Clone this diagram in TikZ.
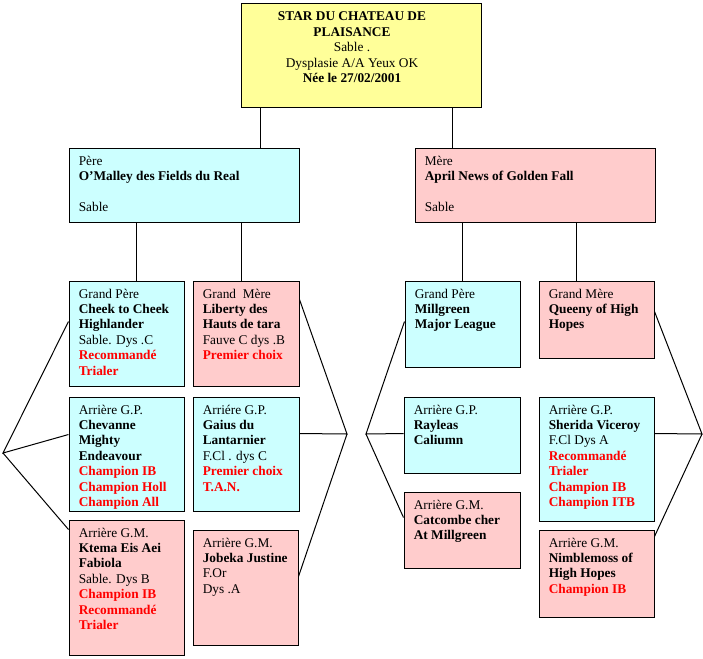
\documentclass[tikz,border=0pt]{standalone}
\usepackage{fontspec}
\setmainfont{Liberation Serif}
\usetikzlibrary{positioning, fit}
\definecolor{paleyellow}{RGB}{255,255,153}
\definecolor{paleblue}{RGB}{204,255,255}
\definecolor{palepink}{RGB}{255,204,204}
\definecolor{prizered}{RGB}{255,0,0}
\newcommand{\prize}[1]{\textcolor{prizered}{\textbf{#1}}}

\begin{document}
\begin{tikzpicture}[
  x=0.75pt, y=-0.75pt,
  box/.style={rectangle, draw=black, line width=0.75pt, inner sep=0pt},
  txt/.style={align=left, inner sep=0pt, font=\fontsize{10}{11.6}\selectfont},
  link/.style={line width=0.75pt},
  node distance=6pt and 7.5pt
]
\useasboundingbox (0,0) rectangle (703,658);

% boxes
\node[box, fill=paleyellow, fit={(241,3) (481,107)}] (star) {};
\node[box, fill=paleblue, fit={(69,148) (299,222)}] (pere) {};
\node[box, fill=palepink, fit={(415,148) (655,222)}] (mere) {};
\node[box, fill=paleblue, fit={(69,281) (184,386)}] (gpa) {};
\node[box, fill=palepink, fit={(193,281) (299,386)}] (gma) {};
\node[box, fill=paleblue, fit={(69,397) (184,511)}] (agpa1) {};
\node[box, fill=paleblue, fit={(193,397) (299,511)}] (agpa2) {};
\node[box, fill=palepink, fit={(69,520) (184,655)}] (agma1) {};
\node[box, fill=palepink, fit={(193,530) (298,645)}] (agma2) {};
\node[box, fill=paleblue, fit={(405,281) (520,367)}] (gpb) {};
\node[box, fill=palepink, fit={(539,281) (654,358)}] (gmb) {};
\node[box, fill=paleblue, fit={(404,397) (520,473)}] (agpb1) {};
\node[box, fill=paleblue, fit={(539,397) (654,521)}] (agpb2) {};
\node[box, fill=palepink, fit={(404,492) (520,568)}] (agmb1) {};
\node[box, fill=palepink, fit={(539,530) (654,617)}] (agmb2) {};

% texts
\node[txt, align=center, below=7pt of star.north, xshift=-6.75pt] (star-t)
  {\textbf{STAR DU CHATEAU DE}\\\textbf{PLAISANCE}\\Sable .\\Dysplasie A/A Yeux OK\\\textbf{Née le 27/02/2001}};
\node[txt, below right=of pere.north west] (pere-t)
  {Père\\\textbf{O’Malley des Fields du Real}\\[11.6pt]Sable};
\node[txt, below right=of mere.north west] (mere-t)
  {Mère\\\textbf{April News of Golden Fall}\\[11.6pt]Sable};
\node[txt, below right=of gpa.north west] (gpa-t)
  {Grand Père\\\textbf{Cheek to Cheek}\\\textbf{Highlander}\\Sable. Dys .C\\\prize{Recommandé}\\\prize{Trialer}};
\node[txt, below right=of gma.north west] (gma-t)
  {Grand\ \ Mère\\\textbf{Liberty des}\\\textbf{Hauts de tara}\\Fauve C dys .B\\\prize{Premier choix}};
\node[txt, below right=of agpa1.north west] (agpa1-t)
  {Arrière G.P.\\\textbf{Chevanne}\\\textbf{Mighty}\\\textbf{Endeavour}\\\prize{Champion IB}\\\prize{Champion Holl}\\\prize{Champion All}};
\node[txt, below right=of agpa2.north west] (agpa2-t)
  {Arriére G.P.\\\textbf{Gaius du}\\\textbf{Lantarnier}\\F.Cl . dys C\\\prize{Premier choix}\\\prize{T.A.N.}};
\node[txt, below right=of agma1.north west] (agma1-t)
  {Arrière G.M.\\\textbf{Ktema Eis Aei}\\\textbf{Fabiola}\\Sable. Dys B\\\prize{Champion IB}\\\prize{Recommandé}\\\prize{Trialer}};
\node[txt, below right=of agma2.north west] (agma2-t)
  {Arrière G.M.\\\textbf{Jobeka Justine}\\F.Or\\Dys .A};
\node[txt, below right=of gpb.north west] (gpb-t)
  {Grand Père\\\textbf{Millgreen}\\\textbf{Major League}};
\node[txt, below right=of gmb.north west] (gmb-t)
  {Grand Mère\\\textbf{Queeny of High}\\\textbf{Hopes}};
\node[txt, below right=of agpb1.north west] (agpb1-t)
  {Arrière G.P.\\\textbf{Rayleas}\\\textbf{Caliumn}};
\node[txt, below right=of agpb2.north west] (agpb2-t)
  {Arrière G.P.\\\textbf{Sherida Viceroy}\\F.Cl Dys A\\\prize{Recommandé}\\\prize{Trialer}\\\prize{Champion IB}\\\prize{Champion ITB}};
\node[txt, below right=of agmb1.north west] (agmb1-t)
  {Arrière G.M.\\\textbf{Catcombe cher}\\\textbf{At Millgreen}};
\node[txt, below right=of agmb2.north west] (agmb2-t)
  {Arrière G.M.\\\textbf{Nimblemoss of}\\\textbf{High Hopes}\\\prize{Champion IB}};

% parents
\draw[link] ([xshift=15pt]star.south west) -- ([xshift=144pt]pere.north west);
\draw[link] ([xshift=159pt]star.south west) -- ([xshift=28.5pt]mere.north west);
\draw[link] ([xshift=51pt]pere.south west) -- ([xshift=51pt]gpa.north west);
\draw[link] ([xshift=129.75pt]pere.south west) -- ([xshift=36.75pt]gma.north west);
\draw[link] ([xshift=36pt]mere.south west) -- ([xshift=43.5pt]gpb.north west);
\draw[link] ([xshift=121.5pt]mere.south west) -- ([xshift=28.5pt]gmb.north west);

% grandparents
\coordinate (fanA) at (3,453);
\coordinate (fanB) at (347,434);
\coordinate (fanC) at (366,434);
\coordinate (fanD) at (702,434);
\draw[link] ([yshift=-30.75pt]gpa.north west) -- (fanA) -- ([yshift=-28.5pt]agpa1.north west);
\draw[link] (fanA) -- ([yshift=-7.5pt]agma1.north west);
\draw[link] ([yshift=-14.25pt]gma.north east) -- (fanB) -- ([yshift=-27.75pt]agpa2.north east);
\draw[link] (fanB) -- ([yshift=-35.25pt]agma2.north east);
\draw[link] ([yshift=-30.75pt]gpb.north west) -- (fanC) -- ([yshift=-27.75pt]agpb1.north west);
\draw[link] (fanC) -- ([yshift=-19.5pt]agmb1.north west);
\draw[link] ([yshift=-23.25pt]gmb.north east) -- (fanD) -- ([yshift=-27.75pt]agpb2.north east);
\draw[link] (fanD) -- ([yshift=-5.25pt]agmb2.north east);
\end{tikzpicture}
\end{document}
